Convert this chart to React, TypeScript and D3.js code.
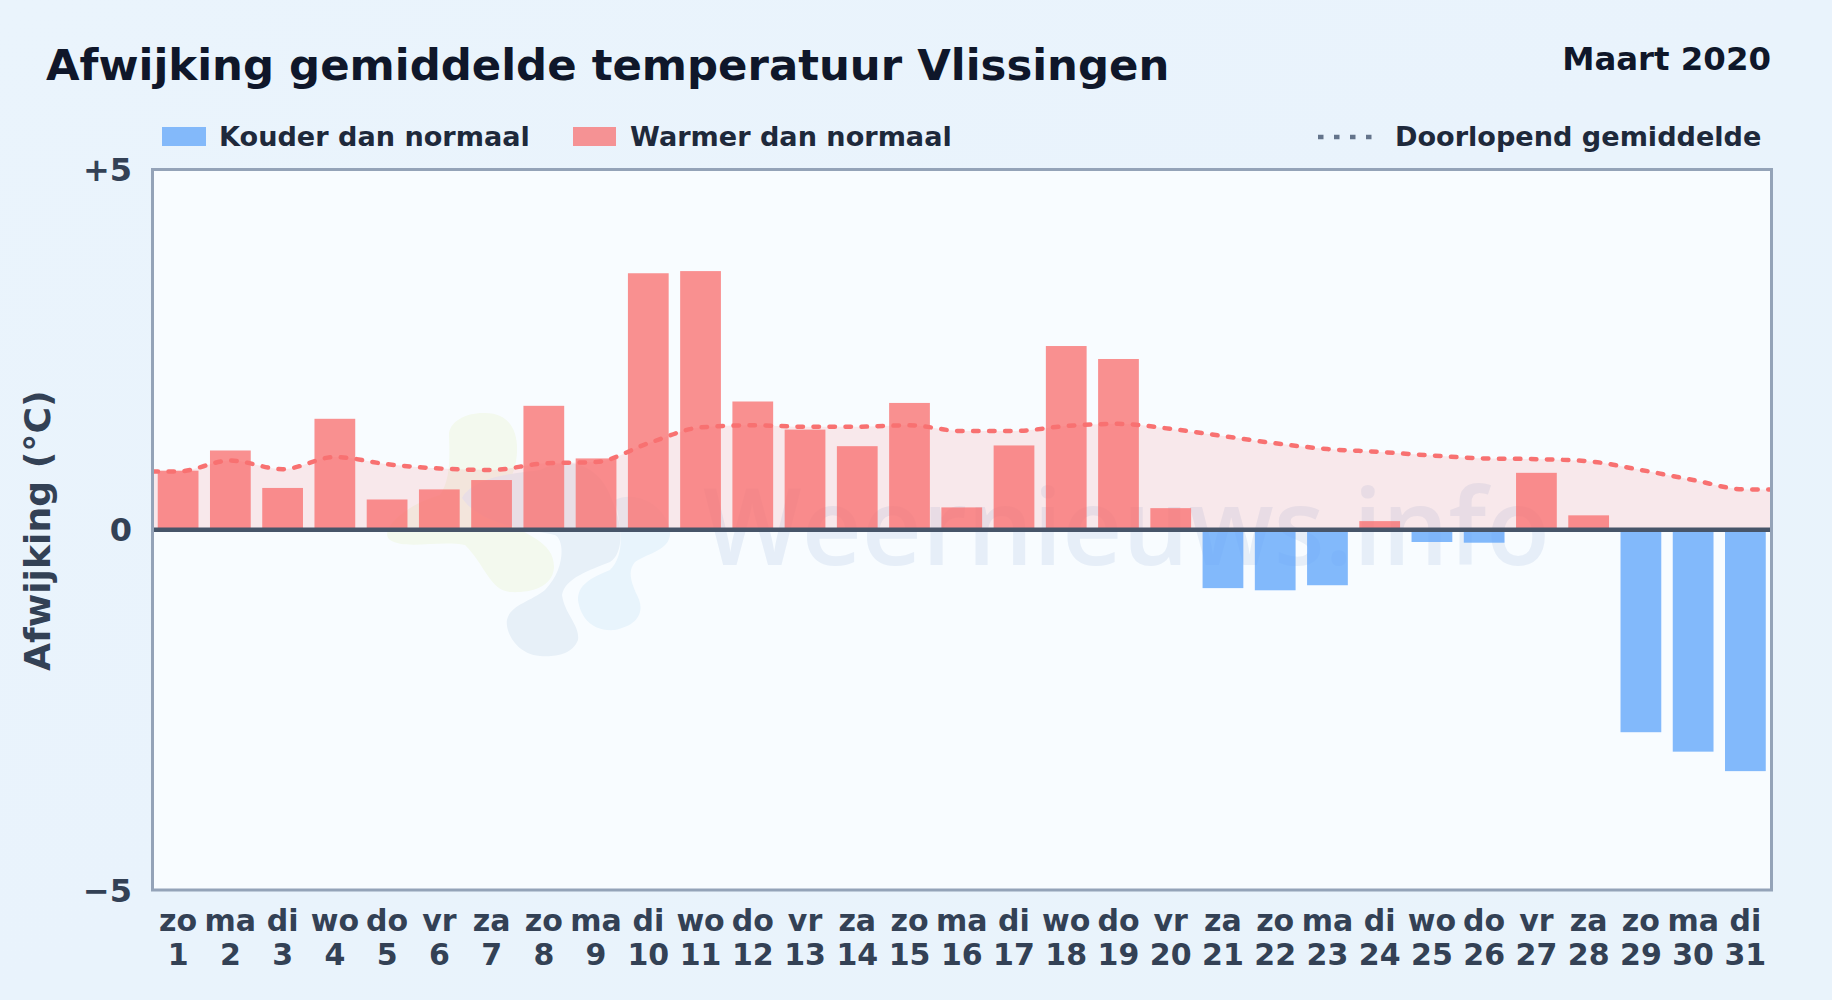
import * as d3 from "d3";

const weekdays = ["zo","ma","di","wo","do","vr","za","zo","ma","di","wo","do","vr","za","zo","ma","di","wo","do","vr","za","zo","ma","di","wo","do","vr","za","zo","ma","di"];
const days = d3.range(1, 32).map(String);
const deviation = [0.82,1.1,0.58,1.54,0.42,0.56,0.69,1.72,0.99,3.56,3.59,1.78,1.39,1.16,1.76,0.31,1.17,2.55,2.37,0.3,-0.81,-0.84,-0.77,0.12,-0.17,-0.18,0.79,0.2,-2.81,-3.08,-3.35];
const runningMean = [0.81,0.96,0.84,1.01,0.91,0.85,0.83,0.92,0.94,1.2,1.42,1.45,1.43,1.43,1.45,1.37,1.37,1.44,1.47,1.4,1.3,1.2,1.12,1.08,1.03,0.99,0.98,0.95,0.83,0.69,0.56];
const yTicks = [5, 0, -5];
const yTickLabels = ["+5", "0", "\u22125"];

const W = 1832;
const H = 1000;
const plot = { left: 152.5, right: 1771.5, top: 169.5, bottom: 890 };
const FONT = "'DejaVu Sans', sans-serif";

const COLORS = {
  title: "#0f172a",
  legend: "#1e293b",
  tick: "#334155",
  border: "#94a3b8",
  zero: "#475569",
  warm: "#f87171",
  cold: "#60a5fa",
  dots: "#64748b",
  plotBg: "#f8fcff",
};

const xBand = d3.scaleBand<string>().domain(days).range([plot.left - 0.5, plot.right]).paddingInner(0.22).paddingOuter(0.11);
const yScale = d3.scaleLinear().domain([-5, 5]).range([plot.bottom, plot.top]);

// de lijn loopt door tot aan de randen van het plotvlak
const trend: [number, number][] = [
  [plot.left, runningMean[0]],
  ...runningMean.map((v, i) => [xBand(days[i])! + xBand.bandwidth() / 2, v] as [number, number]),
  [plot.right, runningMean[runningMean.length - 1]],
];
const trendLine = d3.line<[number, number]>().x((d) => d[0]).y((d) => yScale(d[1])).curve(d3.curveMonotoneX);
const trendArea = d3.area<[number, number]>().x((d) => d[0]).y0(yScale(0)).y1((d) => yScale(d[1])).curve(d3.curveMonotoneX);

function Watermark() {
  return (
    <g>
      <path
        d="M483 413 C510 412 518 432 517 452 C516 480 500 490 500 510 C510 535 555 535 554 568 C552 590 525 593 510 592 C490 590 485 565 465 545 C440 540 405 550 390 540 C378 530 405 505 440 495 C450 480 450 460 449 435 C449 422 465 413 483 413 Z"
        fill="#f3f9ee"
      />
      <path
        d="M462 498 C475 475 520 473 540 470 C570 455 600 465 612 500 C625 530 622 555 610 562 C590 570 565 578 562 595 C565 615 580 625 578 640 C572 655 555 657 540 656 C515 654 505 630 507 620 C510 605 530 602 545 590 C565 570 565 540 555 535 C530 530 480 525 462 498 Z"
        fill="#e7f0f8"
      />
      <path
        d="M615 500 C635 490 665 505 670 530 C672 550 650 552 635 562 C628 570 630 580 637 595 C645 610 640 625 615 630 C590 632 580 615 578 600 C578 585 590 578 610 570 C625 555 622 530 615 500 Z"
        fill="#e8f4fc"
      />
      <text x={703} y={565} fontFamily="'Open Sans', sans-serif" fontWeight={600} fontSize={106} fill="#e6eef8" textLength={847} lengthAdjust="spacingAndGlyphs">
        Weernieuws.info
      </text>
    </g>
  );
}

export default function App() {
  const zeroY = yScale(0);
  return (
    <svg width={W} height={H} viewBox={`0 0 ${W} ${H}`} style={{ position: "absolute", left: 0, top: 0 }} fontFamily={FONT} fontWeight="bold">
      <defs>
        <linearGradient id="pageBg" x1="0" y1="0" x2="1" y2="1">
          <stop offset="0" stopColor="#eaf4fc" />
          <stop offset="0.5" stopColor="#e9f3fc" />
          <stop offset="1" stopColor="#e9f3fb" />
        </linearGradient>
        <clipPath id="plotClip">
          <rect x={plot.left} y={plot.top} width={plot.right - plot.left} height={plot.bottom - plot.top} />
        </clipPath>
      </defs>
      <rect width={W} height={H} fill="url(#pageBg)" />

      <text x={46} y={79.5} fontSize={43.4} fill={COLORS.title}>Afwijking gemiddelde temperatuur Vlissingen</text>
      <text x={1771} y={70} textAnchor="end" fontSize={32.4} fill={COLORS.title}>Maart 2020</text>

      {/* legenda */}
      <rect x={162} y={127} width={44} height={19} fill={COLORS.cold} fillOpacity={0.75} />
      <text x={219} y={146} fontSize={27.1} fill={COLORS.legend}>Kouder dan normaal</text>
      <rect x={573} y={127} width={43} height={19} fill={COLORS.warm} fillOpacity={0.75} />
      <text x={630} y={146} fontSize={27.1} fill={COLORS.legend}>Warmer dan normaal</text>
      <line x1={1318} x2={1376} y1={137} y2={137} stroke={COLORS.dots} strokeWidth={4.5} strokeDasharray="5.5 10.5" />
      <text x={1395} y={146} fontSize={27.1} fill={COLORS.legend}>Doorlopend gemiddelde</text>

      <rect x={plot.left} y={plot.top} width={plot.right - plot.left} height={plot.bottom - plot.top} fill={COLORS.plotBg} />
      <Watermark />

      <g clipPath="url(#plotClip)">
        <path d={trendArea(trend) ?? ""} fill={COLORS.warm} fillOpacity={0.14} />
        {deviation.map((v, i) => (
          <rect
            key={days[i]}
            x={xBand(days[i])}
            width={xBand.bandwidth()}
            y={Math.min(yScale(v), zeroY)}
            height={Math.abs(yScale(v) - zeroY)}
            fill={v >= 0 ? COLORS.warm : COLORS.cold}
            fillOpacity={0.78}
          />
        ))}
        <path d={trendLine(trend) ?? ""} fill="none" stroke={COLORS.warm} strokeWidth={4.5} strokeLinecap="round" strokeDasharray="5.5 10.5" />
      </g>

      <line x1={plot.left} x2={plot.right} y1={zeroY} y2={zeroY} stroke={COLORS.zero} strokeWidth={4.5} />
      <rect x={plot.left} y={plot.top} width={plot.right - plot.left} height={plot.bottom - plot.top} fill="none" stroke={COLORS.border} strokeWidth={3} />

      {/* as-labels */}
      {yTicks.map((t, i) => (
        <text key={t} x={132} y={yScale(t) + 11.5} textAnchor="end" fontSize={32} fill={COLORS.tick}>{yTickLabels[i]}</text>
      ))}
      <text transform={`translate(50,${zeroY + 1}) rotate(-90)`} textAnchor="middle" fontSize={36.2} fill={COLORS.tick}>Afwijking (°C)</text>
      {days.map((d, i) => {
        const cx = xBand(d)! + xBand.bandwidth() / 2;
        return (
          <g key={d} textAnchor="middle" fontSize={30} fill={COLORS.tick}>
            <text x={cx} y={931}>{weekdays[i]}</text>
            <text x={cx} y={965}>{d}</text>
          </g>
        );
      })}
    </svg>
  );
}
